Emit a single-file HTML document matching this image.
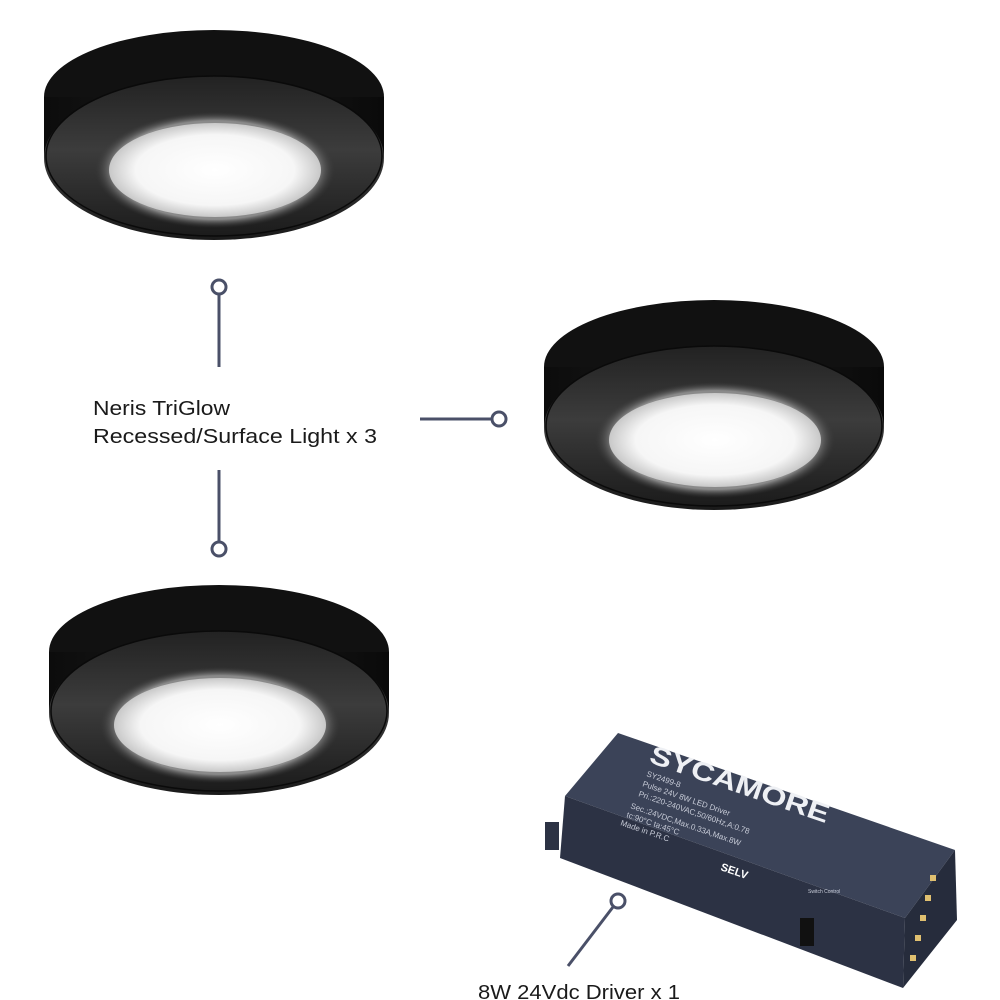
<!DOCTYPE html>
<html><head><meta charset="utf-8"><style>
html,body{margin:0;padding:0;background:#fff;width:1000px;height:1000px;overflow:hidden}
svg{display:block}
</style></head><body>
<svg width="1000" height="1000" viewBox="0 0 1000 1000" xmlns="http://www.w3.org/2000/svg">
<defs>
<linearGradient id="face" x1="0" y1="0" x2="0" y2="1">
<stop offset="0" stop-color="#222"/><stop offset="0.45" stop-color="#3c3c3c"/><stop offset="1" stop-color="#1a1a1a"/>
</linearGradient>
<radialGradient id="glow" cx="0.5" cy="0.5" r="0.5">
<stop offset="0" stop-color="#ffffff"/><stop offset="0.75" stop-color="#f6f6f6"/><stop offset="1" stop-color="#c8c8c8"/>
</radialGradient>
<radialGradient id="halo" cx="0.5" cy="0.5" r="0.5">
<stop offset="0.85" stop-color="#8a8a8a"/><stop offset="1" stop-color="#3c3c3c" stop-opacity="0"/>
</radialGradient>
<linearGradient id="side" x1="0" y1="0" x2="1" y2="0">
<stop offset="0" stop-color="#0c0c0c"/><stop offset="0.5" stop-color="#1c1c1c"/><stop offset="1" stop-color="#0a0a0a"/>
</linearGradient>
<g id="light">
<ellipse cx="214" cy="97" rx="170" ry="67" fill="#111"/>
<rect x="44" y="97" width="340" height="61" fill="url(#side)"/>
<ellipse cx="214" cy="158" rx="170" ry="82" fill="url(#face)"/>
<ellipse cx="214" cy="156" rx="168" ry="80" fill="none" stroke="#0a0a0a" stroke-width="1.5"/>
<ellipse cx="215" cy="170" rx="120" ry="58" fill="url(#halo)"/>
<ellipse cx="215" cy="170" rx="106" ry="47" fill="url(#glow)"/>
</g>
</defs>
<use href="#light"/>
<use href="#light" transform="translate(500,270)"/>
<use href="#light" transform="translate(5,555)"/>

<!-- driver -->
<polygon points="618,733 955,850 905,918 565,796" fill="#3b4358"/>
<polygon points="565,796 905,918 903,988 560,858" fill="#2c3244"/>
<polygon points="905,918 955,850 957,920 903,988" fill="#262c3c"/>
<rect x="545" y="822" width="14" height="28" fill="#2c3244"/>
<g fill="#eef0f4" font-family="Liberation Sans, sans-serif" font-weight="bold">
<text x="648" y="762" font-size="26" textLength="188" lengthAdjust="spacingAndGlyphs" transform="rotate(19 648 762)">SYCAMORE</text>
</g>
<g fill="#c8ccd8" font-family="Liberation Sans, sans-serif" font-size="8">
<text x="646" y="776" transform="rotate(19 646 776)">SY2499-8</text>
<text x="642" y="786" transform="rotate(19 642 786)">Pulse 24V 8W LED Driver</text>
<text x="638" y="796" transform="rotate(19 638 796)">Pri.:220-240VAC,50/60Hz,A:0.78</text>
<text x="630" y="808" transform="rotate(19 630 808)">Sec.:24VDC,Max.0.33A,Max.8W</text>
<text x="626" y="817" transform="rotate(19 626 817)">tc:90°C ta:45°C</text>
<text x="620" y="825" transform="rotate(19 620 825)">Made in P.R.C</text>
<text x="720" y="870" font-size="11" font-weight="bold" fill="#fff" transform="rotate(19 720 870)">SELV</text>
<text x="808" y="893" font-size="5">Switch Control</text>
</g>
<g fill="#e0c070"><rect x="930" y="875" width="6" height="6"/><rect x="925" y="895" width="6" height="6"/><rect x="920" y="915" width="6" height="6"/><rect x="915" y="935" width="6" height="6"/><rect x="910" y="955" width="6" height="6"/></g>
<rect x="800" y="918" width="14" height="28" fill="#111"/>

<!-- connectors -->
<g stroke="#4a5068" stroke-width="3" fill="#fff">
<line x1="219" y1="294" x2="219" y2="367"/>
<circle cx="219" cy="287" r="7"/>
<line x1="219" y1="470" x2="219" y2="542"/>
<circle cx="219" cy="549" r="7"/>
<line x1="420" y1="419" x2="492" y2="419"/>
<circle cx="499" cy="419" r="7"/>
<line x1="613" y1="907" x2="568" y2="966"/>
<circle cx="618" cy="901" r="7"/>
</g>
<g font-family="Liberation Sans, sans-serif" font-size="20" fill="#1a1a1a">
<text x="93" y="415" textLength="137" lengthAdjust="spacingAndGlyphs">Neris TriGlow</text>
<text x="93" y="443" textLength="284" lengthAdjust="spacingAndGlyphs">Recessed/Surface Light x 3</text>
<text x="478" y="999" textLength="202" lengthAdjust="spacingAndGlyphs">8W 24Vdc Driver x 1</text>
</g>
</svg>
</body></html>
